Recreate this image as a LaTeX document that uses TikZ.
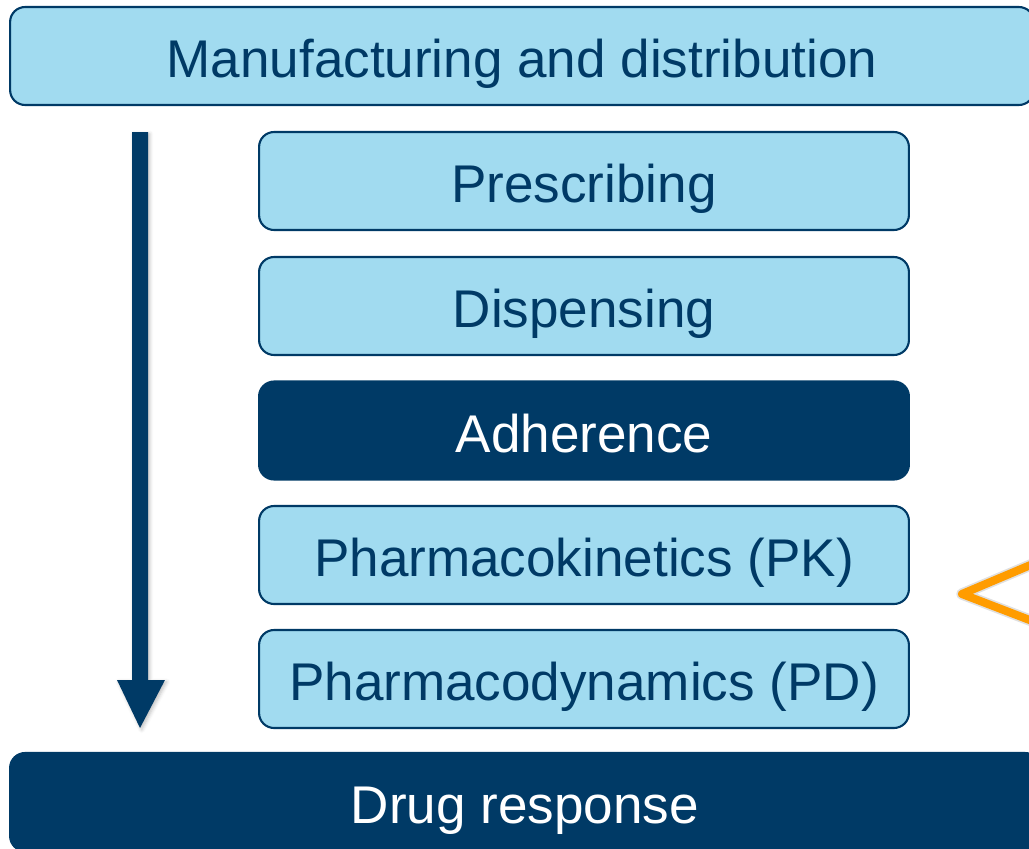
\documentclass[tikz,border=0pt]{standalone}
\usepackage{fontspec}
\setmainfont{Liberation Sans}
\usetikzlibrary{shadows.blur}
\definecolor{lightblue}{HTML}{A1DBF0}
\definecolor{navy}{HTML}{003A66}
\definecolor{amber}{HTML}{FF9C00}
\begin{document}
\begin{tikzpicture}[x=0.02cm,y=-0.02cm,
  box/.style={draw=navy, line width=1.2pt, rounded corners=0.3cm,
    minimum height=1.96cm, inner sep=0pt, text height=29pt, text depth=4pt,
    font=\fontsize{30.2}{34}\selectfont},
  stagebox/.style={box, fill=lightblue, text=navy, minimum width=13cm},
  keybox/.style={box, fill=navy, text=white, minimum width=13cm},
  widebox/.style={box, fill=lightblue, text=navy, minimum width=20.48cm},
  outcomebox/.style={box, fill=navy, text=white, minimum width=20.6cm}]
\useasboundingbox (0,0) rectangle (1029,849);
\clip (0,0) rectangle (1029,849);

% full-width top and bottom bands
\node[widebox]   (mfg)  at (522,56)  {Manufacturing and distribution};
\node[outcomebox](resp) at (525,802) {Drug response};

% stacked stages
\node[stagebox] (presc) at (584,181)   {Prescribing};
\node[stagebox] (disp)  at (584,306)   {Dispensing};
\node[keybox]   (adh)   at (584,430.5) {Adherence};
\node[stagebox] (pk)    at (584,555)   {Pharmacokinetics (PK)};
\node[stagebox] (pd)    at (584,679)   {Pharmacodynamics (PD)};

% downward flow arrow
\coordinate (atop) at (140,132);
\coordinate (atip) at (140,728);
\fill[navy, blur shadow={shadow xshift=1pt, shadow yshift=-1pt, shadow blur radius=2pt, shadow opacity=25}]
  ([xshift=-8*0.02cm]atop) -- ([xshift=8*0.02cm]atop)
  -- ([xshift=8*0.02cm]atop |- 0,680) -- ([xshift=25*0.02cm]atop |- 0,680)
  -- (atip) -- ([xshift=-23*0.02cm]atop |- 0,680)
  -- ([xshift=-8*0.02cm]atop |- 0,680) -- cycle;

% orange chevron at the right edge, with a soft shadow
\coordinate (cA) at (1040,561);
\coordinate (cT) at (962,594);
\coordinate (cB) at (1040,624);
\begin{scope}[shift={(2.5,2.5)}]
  \draw[black, opacity=0.12, line width=6.5pt, line join=round, line cap=round]
    (cA) -- (cT) -- (cB);
\end{scope}
\draw[amber, line width=4.6pt, line join=round, line cap=round]
  (cA) -- (cT) -- (cB);
\end{tikzpicture}
\end{document}
